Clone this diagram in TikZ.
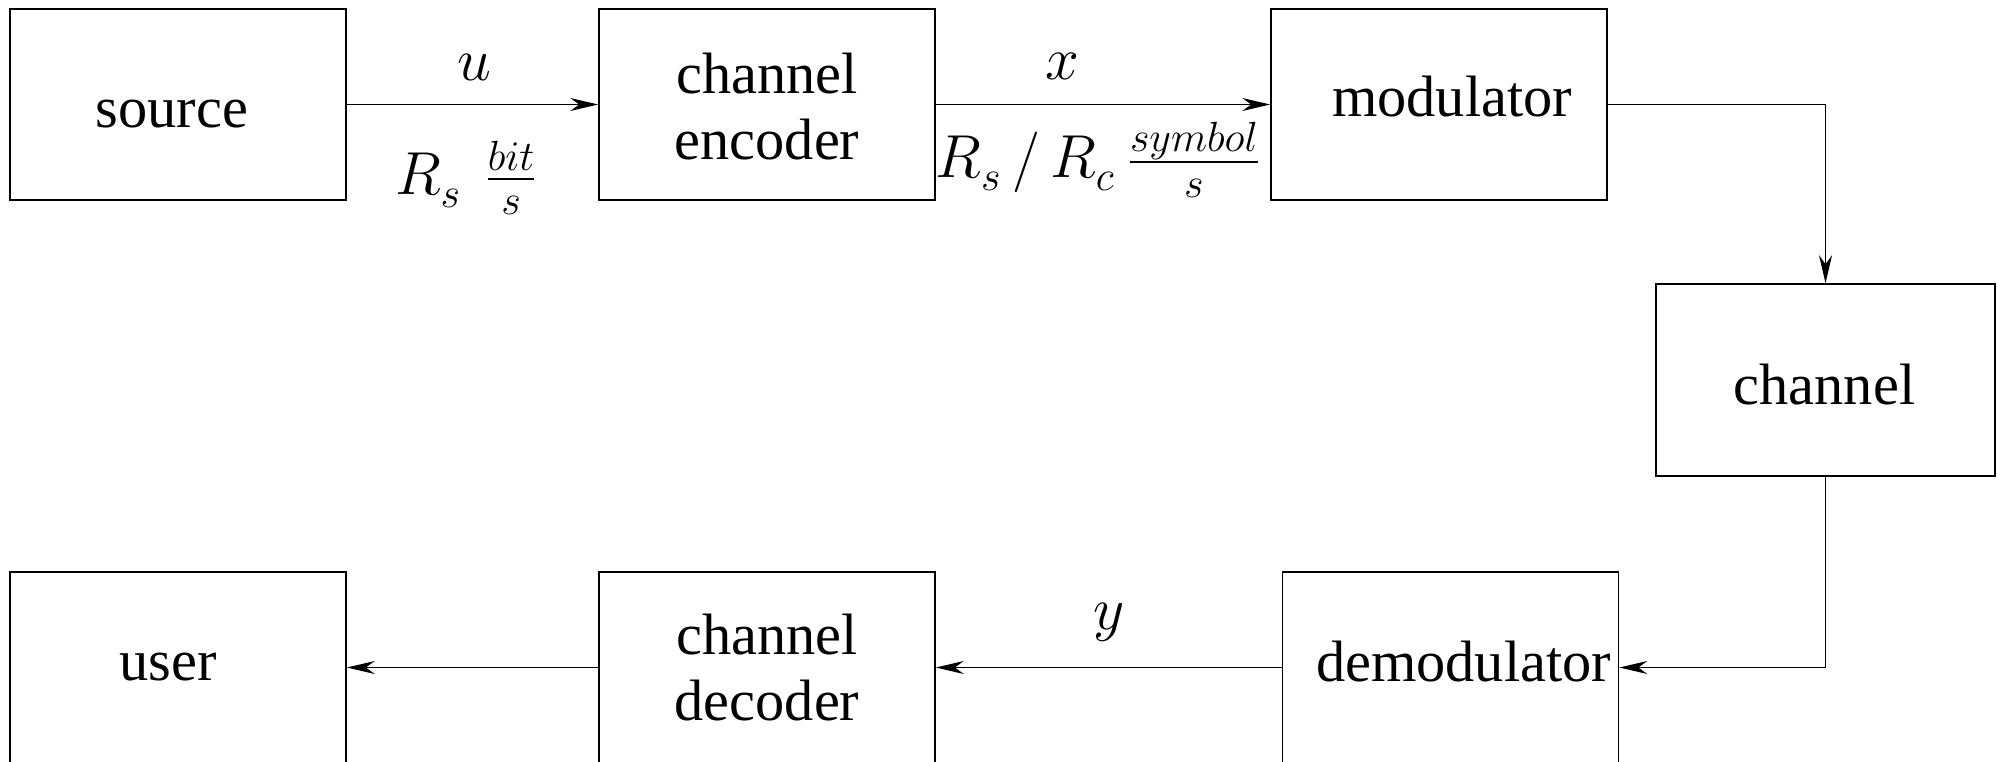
\documentclass[tikz,border=0pt]{standalone}
\usepackage{fontspec}
\setmainfont{Liberation Serif}
\usetikzlibrary{arrows.meta}
\newcommand{\lsub}[1]{_{\lower0.07em\hbox{$\scriptstyle #1$}}}
\begin{document}
\begin{tikzpicture}[x=0.1mm,y=-0.1mm,
  blk/.style={draw,line width=0.45pt,minimum width=33.6mm,minimum height=19.1mm,inner sep=0pt},
  txt/.style={inner sep=0pt,align=center,font=\fontsize{16.6}{18.8}\selectfont},
  mlab/.style={inner sep=0pt,anchor=base,font=\fontsize{17.6}{20}\selectfont},
  arr/.style={line width=0.45pt,-{Stealth[length=2.8mm,width=1.3mm,inset=0.9mm]}}]
\clip (0,0) rectangle (1997,761);
\useasboundingbox (0,0) rectangle (1997,761);
\node[blk] (src) at (178,104.5) {};
\node[blk] (enc) at (767,104.5) {};
\node[blk] (mod) at (1439,104.5) {};
\node[blk,minimum width=33.9mm,minimum height=19.2mm] (ch) at (1825.5,380) {};
\node[blk] (usr) at (178,667.5) {};
\node[blk] (dec) at (767,667.5) {};
\node[blk] (dem) at (1450.5,667.5) {};
\node[txt] (srct) at ([shift={(-6,10)}]src.center) {source};
\node[txt] (enct) at ([shift={(0,2)}]enc.center) {channel\\encoder};
\node[txt] (modt) at ([shift={(13,-8)}]mod.center) {modulator};
\node[txt] (cht) at ([shift={(-1,5)}]ch.center) {channel};
\node[txt] (usrt) at ([shift={(-10,0)}]usr.center) {user};
\node[txt] (dect) at (dec.center) {channel\\decoder};
\node[txt] (demt) at ([shift={(13,-6)}]dem.center) {demodulator};
\draw[arr] (src) -- (enc);
\draw[arr] (enc) -- (mod);
\draw[arr] (mod.east) -| (ch.north);
\draw[arr] (ch.south) |- (dem.east);
\draw[arr] (dem) -- (dec);
\draw[arr] (dec) -- (usr);
\node[mlab] (lu) at (474,80) {$u$};
\node[mlab] (lx) at (1062,79) {$x$};
\node[mlab] (ly) at (1109,629) {$y$};
\node[mlab] (lr1) at (467,194) {$R\lsub{s}\hspace{0.35em}\frac{bit}{s}$};
\node[mlab] (lr2) at (1099,177) {$R\lsub{s}\,/\,R\lsub{c}\hspace{0.17em}\frac{symbol}{s}$};
\end{tikzpicture}
\end{document}
